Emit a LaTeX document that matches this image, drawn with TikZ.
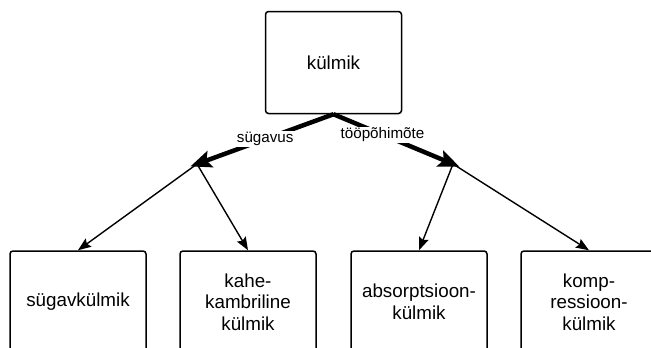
\documentclass[tikz,border=0pt]{standalone}
\usepackage{fontspec}
\setmainfont{Liberation Sans}
\usetikzlibrary{arrows.meta}
\tikzset{
  box/.style={draw=black, line width=1.5pt, rounded corners=3pt, minimum width=136pt, minimum height=102pt, inner sep=0pt, align=center, font=\fontsize{18.8}{21.5}\selectfont},
  thickarr/.style={line width=4.5pt, shorten >=-7pt, -{Stealth[length=21pt, width=17pt, inset=4pt]}},
  thinarr/.style={line width=1.4pt, -{Stealth[length=13pt, width=10pt, inset=2pt]}},
  lbl/.style={fill=white, inner sep=1pt, font=\fontsize{15.2}{17}\selectfont}
}
\begin{document}
\begin{tikzpicture}[x=1pt, y=-1pt]
\useasboundingbox (0,0) rectangle (651,348);
\clip (0,0) rectangle (651,348);
\node[box] (top) at (333.5,62.5) {külmik};
\node[box] (b1) at (78,302) {sügavkülmik};
\node[box] (b2) at (248,302) {kahe-\\kambriline\\külmik};
\node[box] (b3) at (419,302) {absorptsioon-\\külmik};
\node[box] (b4) at (589,302) {komp-\\ressioon-\\külmik};
\coordinate (jl) at (197,164);
\coordinate (jr) at (453,164);
\draw[thinarr] (jl) -- (b1.north);
\draw[thinarr] (jl) -- (b2.north);
\draw[thinarr] (jr) -- (b3.north);
\draw[thinarr] (jr) -- (b4.north);
\draw[thickarr] (top.south) -- (jl) node[lbl, pos=0.5] {sügavus};
\draw[thickarr] (top.south) -- (jr) node[lbl, pos=0.41] {tööpõhimõte};
\end{tikzpicture}
\end{document}
